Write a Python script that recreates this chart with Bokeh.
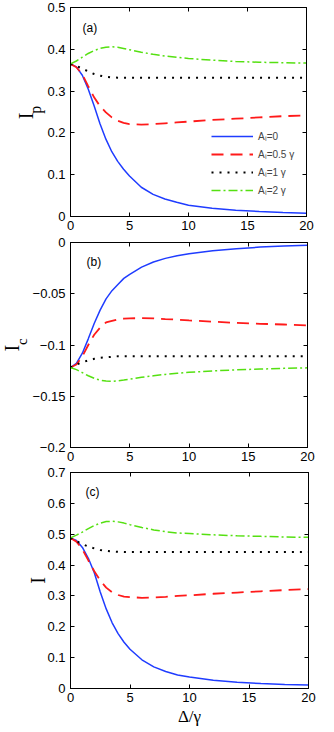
import math
from bokeh.plotting import figure
from bokeh.layouts import column
from bokeh.models import (Range1d, FixedTicker, LinearAxis, Label, Legend,
                          LegendItem, CustomJSTickFormatter)
from bokeh.embed import file_html
from bokeh.resources import INLINE

# ---------------- data ----------------
delta = [0, 0.5, 1, 1.5, 2, 2.5, 3, 3.5, 4, 4.5, 5, 6, 7, 8, 9, 10, 12, 14, 16, 18, 20]

# panel (a): I_p
ip_0 = [0.365, 0.358, 0.338, 0.305, 0.265, 0.222, 0.185, 0.155, 0.132, 0.113, 0.097,
        0.070, 0.053, 0.042, 0.034, 0.027, 0.020, 0.015, 0.012, 0.0095, 0.0075]
ip_05 = [0.365, 0.357, 0.340, 0.312, 0.285, 0.264, 0.249, 0.237, 0.229, 0.224, 0.221,
         0.220, 0.221, 0.223, 0.225, 0.227, 0.231, 0.234, 0.237, 0.240, 0.242]
ip_1 = [0.365, 0.360, 0.354, 0.347, 0.341, 0.337, 0.334, 0.333, 0.332, 0.332, 0.332,
        0.332, 0.332, 0.332, 0.332, 0.332, 0.332, 0.332, 0.332, 0.332, 0.332]
ip_2 = [0.365, 0.372, 0.381, 0.390, 0.397, 0.402, 0.405, 0.406, 0.405, 0.402, 0.399,
        0.393, 0.388, 0.384, 0.381, 0.378, 0.374, 0.371, 0.369, 0.368, 0.367]

# panel (b): I_c
ic_0 = [-0.122, -0.118, -0.108, -0.094, -0.079, -0.066, -0.055, -0.047, -0.041, -0.035, -0.031,
        -0.024, -0.019, -0.0155, -0.013, -0.011, -0.008, -0.006, -0.0045, -0.0035, -0.0026]
ic_05 = [-0.122, -0.119, -0.111, -0.100, -0.090, -0.083, -0.078, -0.0765, -0.075, -0.0743, -0.074,
         -0.0738, -0.074, -0.0747, -0.0753, -0.076, -0.0772, -0.0784, -0.0793, -0.080, -0.081]
ic_1 = [-0.122, -0.119, -0.117, -0.115, -0.1135, -0.1125, -0.112, -0.1115, -0.111, -0.111, -0.111,
        -0.111, -0.111, -0.111, -0.111, -0.111, -0.111, -0.111, -0.111, -0.111, -0.111]
ic_2 = [-0.122, -0.124, -0.127, -0.130, -0.1325, -0.1343, -0.1352, -0.1355, -0.135, -0.1342, -0.1333,
        -0.1315, -0.130, -0.1287, -0.1276, -0.1267, -0.1253, -0.1242, -0.1235, -0.1228, -0.1223]

# panel (c): I
it_0 = [0.488, 0.480, 0.457, 0.422, 0.375, 0.313, 0.258, 0.213, 0.178, 0.150, 0.127,
        0.093, 0.070, 0.055, 0.044, 0.037, 0.027, 0.020, 0.016, 0.013, 0.011]
it_05 = [0.488, 0.476, 0.451, 0.415, 0.380, 0.350, 0.327, 0.312, 0.303, 0.298, 0.296,
         0.294, 0.295, 0.297, 0.300, 0.302, 0.307, 0.311, 0.315, 0.319, 0.322]
it_1 = [0.488, 0.478, 0.468, 0.460, 0.454, 0.449, 0.446, 0.444, 0.443, 0.442, 0.442,
        0.442, 0.442, 0.442, 0.442, 0.442, 0.442, 0.442, 0.442, 0.442, 0.442]
it_2 = [0.488, 0.497, 0.507, 0.518, 0.528, 0.536, 0.541, 0.542, 0.540, 0.536, 0.531,
        0.522, 0.514, 0.508, 0.504, 0.502, 0.498, 0.495, 0.493, 0.491, 0.490]

x_ticks = [0, 5, 10, 15, 20]
ya_ticks = [0, 0.1, 0.2, 0.3, 0.4, 0.5]
yb_ticks = [-0.2, -0.15, -0.1, -0.05, 0]
yc_ticks = [0, 0.1, 0.2, 0.3, 0.4, 0.5, 0.6, 0.7]
legend_labels = ["A\u2097=0", "A\u2097=0.5 \u03b3", "A\u2097=1 \u03b3", "A\u2097=2 \u03b3"]

# ---------------- style ----------------
SANS = "Liberation Sans"
SERIF = "Liberation Serif"
colors = ["#1f3cff", "#ff1a1a", "#000000", "#55e011"]
dashes = ["solid", "12 7", "2 6", "9 3 2 3"]
widths = [1.5, 1.8, 2.0, 1.5]

fmt_code = "return (Math.round(tick*1000)/1000).toString().replace('-', '\u2212');"


def style_axis(ax, show_labels=True, standoff=5):
    ax.major_tick_in = 4
    ax.major_tick_out = 0
    ax.minor_tick_in = 0
    ax.minor_tick_out = 0
    ax.axis_line_color = "black"
    ax.major_tick_line_color = "black"
    if show_labels:
        ax.major_label_text_font = SANS
        ax.major_label_text_font_size = "13px"
        ax.major_label_text_color = "black"
        ax.major_label_standoff = standoff
        ax.formatter = CustomJSTickFormatter(code=fmt_code)
    else:
        # tick marks only: labels are not drawn at all
        ax.major_label_text_color = None
        ax.major_label_text_font_size = "1px"
        ax.major_label_standoff = 0


def make_panel(top, fw, fh, bottom, yr, yticks, series):
    p = figure(frame_width=fw, frame_height=fh,
               x_range=Range1d(0, 20), y_range=Range1d(*yr),
               output_backend="svg", toolbar_location=None,
               min_border_left=70, min_border_right=12,
               min_border_top=top, min_border_bottom=bottom,
               background_fill_color="white", border_fill_color="white")
    p.xgrid.visible = False
    p.ygrid.visible = False
    p.outline_line_color = "black"
    p.xaxis.ticker = FixedTicker(ticks=x_ticks)
    p.yaxis.ticker = FixedTicker(ticks=yticks)
    for ax in p.xaxis:
        style_axis(ax, True, 4)
    for ax in p.yaxis:
        style_axis(ax, True, 5)
    top_ax = LinearAxis(ticker=FixedTicker(ticks=x_ticks))
    style_axis(top_ax, False)
    p.add_layout(top_ax, "above")
    right_ax = LinearAxis(ticker=FixedTicker(ticks=yticks))
    style_axis(right_ax, False)
    p.add_layout(right_ax, "right")
    rends = []
    for vals, c, d, w in zip(series, colors, dashes, widths):
        rends.append(p.line(delta, vals, line_color=c, line_dash=d, line_width=w))
    return p, rends


def panel_tag(p, x, y, text):
    p.add_layout(Label(x=x, y=y, text=text, text_align="left",
                       text_baseline="middle", text_font=SANS,
                       text_font_size="12px", text_color="black"))


def side_text(p, x, y, text, size, side):
    # placed in a side panel so that it is not clipped to the frame
    p.add_layout(Label(x=x, y=y, text=text, angle=math.pi / 2, text_align="center",
                       text_baseline="alphabetic", text_font=SERIF,
                       text_font_size=size, text_color="black"), side)


# panel (a)
pa, ra = make_panel(7, 236, 209, 20, (0, 0.5), ya_ticks, [ip_0, ip_05, ip_1, ip_2])
panel_tag(pa, 1.02, 0.452, "(a)")
side_text(pa, -3.729, 0.2404, "I", "20px", "left")
side_text(pa, -2.949, 0.2555, "p", "16px", "right")
legend = Legend(items=[LegendItem(label=t, renderers=[r]) for t, r in zip(legend_labels, ra)],
                location=(141, 17), padding=0, margin=0, spacing=0,
                glyph_width=42, glyph_height=18, label_height=18, label_standoff=5,
                label_text_font=SANS, label_text_font_size="10px",
                border_line_color=None, background_fill_alpha=0)
pa.add_layout(legend)

# panel (b)
pb, rb = make_panel(6, 237, 205, 19, (-0.2, 0), yb_ticks, [ic_0, ic_05, ic_1, ic_2])
panel_tag(pb, 1.35, -0.0195, "(b)")
side_text(pb, -4.895, -0.1032, "I", "20px", "left")
side_text(pb, -4.076, -0.0968, "c", "15px", "right")

# panel (c)
pc, rc = make_panel(6, 238, 216, 44, (0, 0.7), yc_ticks, [it_0, it_05, it_1, it_2])
panel_tag(pc, 1.26, 0.638, "(c)")
side_text(pc, -2.714, 0.350, "I", "20px", "left")
xb = pc.below[0]
xb.axis_label = "\u0394/\u03b3"
xb.axis_label_text_font = SERIF
xb.axis_label_text_font_style = "normal"
xb.axis_label_text_font_size = "17px"
xb.axis_label_text_color = "black"
xb.axis_label_standoff = 2

layout = column(pa, pb, pc, spacing=0)
with open("out.html", "w", encoding="utf-8") as f:
    f.write(file_html(layout, INLINE))
